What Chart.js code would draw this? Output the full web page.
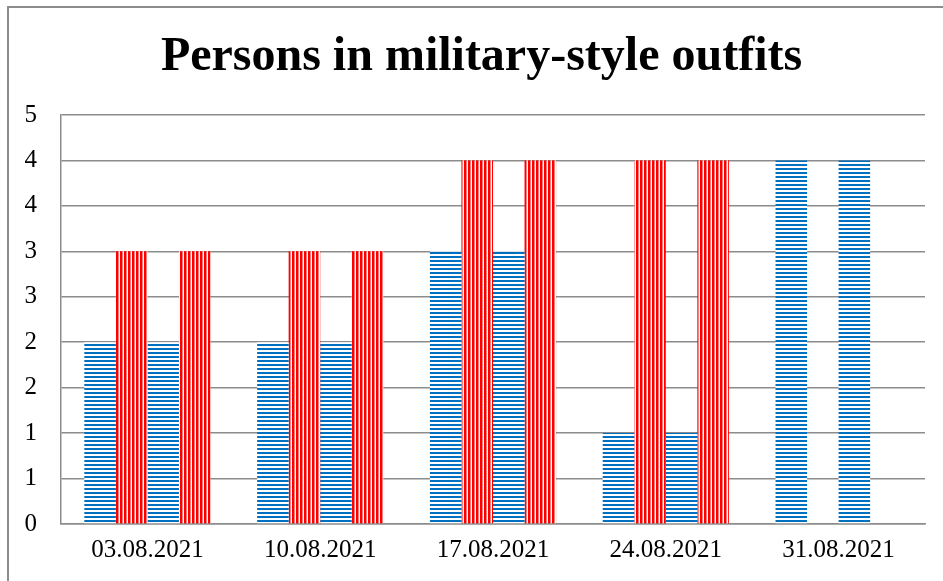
<!DOCTYPE html>
<html>
<head>
<meta charset="utf-8">
<script src="https://cdn.jsdelivr.net/npm/chart.js@4.4.1/dist/chart.umd.min.js"></script>
<style>
  html, body { margin: 0; padding: 0; background: #fff; }
  canvas { display: block; }
</style>
</head>
<body>
<canvas id="chart" width="943" height="581"></canvas>
<script>
// Data
const dates = ['03.08.2021', '10.08.2021', '17.08.2021', '24.08.2021', '31.08.2021'];
const seriesA = [2, 2, 3, 1, 4];
const seriesB = [3, 3, 4, 4, 0];
const seriesC = [2, 2, 3, 1, 4];
const seriesD = [3, 3, 4, 4, 0];
// axis runs 0..4.5 by 0.5, labels shown rounded to whole numbers
const yTickLabels = ['0', '1', '1', '2', '2', '3', '3', '4', '4', '5'];

const serif = "'Liberation Serif', 'Times New Roman', serif";

// Striped fills
function makeStripes(color, vertical) {
    const tile = document.createElement('canvas');
    tile.width = 4;
    tile.height = 4;
    const c = tile.getContext('2d');
    c.fillStyle = '#ffffff';
    c.fillRect(0, 0, 4, 4);
    c.fillStyle = color;
    if (vertical) {
        c.fillRect(0, 0, 2.5, 4);
    } else {
        c.fillRect(0, 0, 4, 2);
    }
    return c.createPattern(tile, 'repeat');
}

const ctx = document.getElementById('chart').getContext('2d');
const bluePattern = makeStripes('#0070C0', false);
const redPattern = makeStripes('#FF0000', true);

// Background, outer frame, and a small shift of the title to the right
const framePlugin = {
    id: 'frame',
    afterLayout(chart) {
        if (chart.titleBlock) {
            chart.titleBlock.left += 19;
            chart.titleBlock.right += 19;
        }
    },
    beforeDraw(chart) {
        const c = chart.ctx;
        c.save();
        c.fillStyle = '#ffffff';
        c.fillRect(0, 0, chart.width, chart.height);
        c.strokeStyle = '#8c8c8c';
        c.lineWidth = 2;
        c.beginPath();
        c.moveTo(8, chart.height);
        c.lineTo(8, 7);
        c.lineTo(chart.width, 7);
        c.stroke();
        c.restore();
    }
};

new Chart(ctx, {
    type: 'bar',
    data: {
        labels: dates,
        datasets: [
            { label: 'Series 1', data: seriesA, backgroundColor: bluePattern },
            { label: 'Series 2', data: seriesB, backgroundColor: redPattern },
            { label: 'Series 3', data: seriesC, backgroundColor: bluePattern },
            { label: 'Series 4', data: seriesD, backgroundColor: redPattern }
        ]
    },
    options: {
        responsive: false,
        animation: false,
        devicePixelRatio: 1,
        layout: { padding: { top: 7, right: 18, bottom: 0, left: 0 } },
        datasets: {
            bar: { categoryPercentage: 0.73, barPercentage: 1.0, borderWidth: 0 }
        },
        plugins: {
            legend: { display: false },
            tooltip: { enabled: false },
            title: {
                display: true,
                text: 'Persons in military-style outfits',
                color: '#000',
                font: { family: serif, size: 48, weight: 'bold', lineHeight: 1.2 },
                padding: { top: 21.6, bottom: 28.8 }
            }
        },
        scales: {
            x: {
                grid: { display: false, drawTicks: false },
                border: { color: '#8c8c8c', width: 1.5 },
                ticks: { color: '#000', font: { family: serif, size: 25 }, padding: 11, maxRotation: 0 },
                afterFit(scale) { scale.height = 57; }
            },
            y: {
                min: 0,
                max: 4.5,
                grid: { color: '#8c8c8c', lineWidth: 1.5, drawTicks: false },
                border: { color: '#8c8c8c', width: 1.5 },
                ticks: {
                    stepSize: 0.5,
                    color: '#000',
                    font: { family: serif, size: 25 },
                    padding: 24,
                    callback: (value, index) => yTickLabels[index]
                },
                afterFit(scale) { scale.width = 61; }
            }
        }
    },
    plugins: [framePlugin]
});
</script>
</body>
</html>
